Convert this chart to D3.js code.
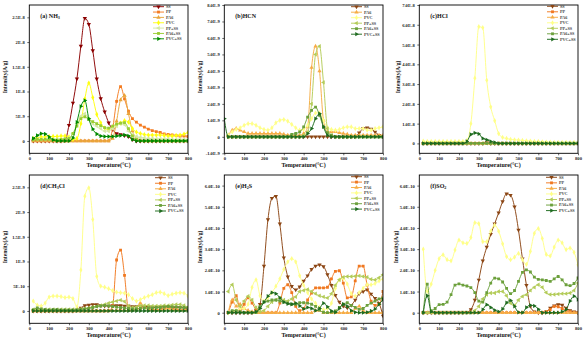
<!DOCTYPE html>
<html>
<head>
<meta charset="utf-8">
<script src="https://cdn.jsdelivr.net/npm/d3@7"></script>
<style>
  body { margin: 0; background: #fff; }
  svg { display: block; }
  text { font-family: "Liberation Serif", "Times New Roman", serif; }
</style>
</head>
<body>
<svg id="chart" width="588" height="344"></svg>
<script>
// Temperature grid (°C) shared by every gas panel
const temperature = [0,20,40,60,80,100,120,140,160,180,200,220,240,260,280,300,320,340,360,380,400,
  420,440,460,480,500,520,540,560,580,600,620,640,660,680,700,720,740,760,780,800];
const tempTicks = [0,100,200,300,400,500,600,700,800];

// ---- (a) NH3, intensity in units of 1E-9 A/g ----
const nh3Ticks = [0,5,10,15,20,25];
const nh3TickLabels = ["0","5E-9","1E-8","1.5E-8","2E-8","2.5E-8"];
const nh3SS    = [null,0,0,0,0,0,0,0,0,0.1,3.2,7.7,12.6,19.2,24.8,23.6,18.3,12.6,8.6,5.9,3.7,2.3,1.5,1.3,1.1,0.9,0.3,0,0,0,0,0,0,0,0,0,0,0,0,0,0];
const nh3PP    = [null,0,0,0,0,0,0,0,0,0,0,0,0,0,0,0,0,0,0,0,0,2.5,8.0,11.0,8.5,6.0,4.5,3.8,3.2,2.8,2.4,2.1,1.9,1.7,1.4,1.3,1.2,1.1,1.0,1.0,0.9];
const nh3PA6   = [null,0,0,0,0,0,0,0,0,0,0,0,0,0,0,0,0,0,0,0,0,0.5,4.0,8.3,9.2,5.5,2.0,0.6,0.2,0,0,0,0,0,0,0,0,0,0,0,0];
const nh3PVC   = [null,0.5,0.6,0.8,0.8,0.9,0.9,0.9,1.0,1.0,0.8,0.3,0.5,3.5,8.5,11.7,8.8,5.4,3.7,2.6,2.2,2.8,3.2,3.6,4.1,3.8,2.5,1.8,1.5,1.3,1.2,1.2,1.2,1.2,1.1,1.0,1.0,1.1,1.2,1.4,1.7];
const nh3PPSS  = [null,0.3,0.3,0.3,0.3,0.3,0.3,0.3,0.3,0.4,0.6,1.5,3.5,5.0,5.5,4.5,3.5,3.0,2.5,2.0,2.0,2.5,3.0,3.5,3.3,2.0,1.2,0.9,0.7,0.6,0.5,0.5,0.4,0.4,0.4,0.4,0.3,0.3,0.3,0.3,0.3];
const nh3PA6SS = [null,0.2,0.3,0.3,0.3,0.3,0.2,0.2,0.3,0.4,0.5,1.5,3.0,4.5,4.9,4.3,3.9,3.5,3.1,2.7,2.6,3.0,3.4,3.6,3.7,2.5,1.0,0.3,0,0,0,0,0,0,0,0,0,0,0,0,0];
const nh3PVCSS = [null,0.5,1.1,1.5,1.4,0.8,0.2,0,0,0,0,0.6,3.8,7.0,8.2,4.5,2.4,1.4,1.0,0.9,0.9,0.9,1.0,1.1,1.2,1.0,0.3,0,0,0,0,0,0,0,0,0,0,0,0,0,0];

// ---- (b) HCN, units of 1E-9 A/g ----
const hcnTicks = [-1,0,1,2,3,4,5,6,7,8];
const hcnTickLabels = ["-1.0E-9","0","1.0E-9","2.0E-9","3.0E-9","4.0E-9","5.0E-9","6.0E-9","7.0E-9","8.0E-9"];
const hcnSS    = [null,0,0,0,0,0,0,0,0,0,0,0,0,0,0,0,0,0,0,0,0,0,0,0,0,0,0,0,0,0,0,0,0,0,0.25,0.5,0.55,0.48,0.3,0.1,0];
const hcnPA6   = [null,0.1,0.4,0.5,0.4,0.3,0.2,0.2,0.2,0.2,0.2,0.2,0.2,0.2,0.2,0.15,0.1,0.1,0.1,0.1,0.2,0.6,4.2,5.5,4.0,1.0,0.3,0.3,0.3,0.25,0.2,0.15,0.1,0.1,0.1,0.1,0.1,0.1,0.1,0.1,0.1];
const hcnPVC   = [null,0.1,0.3,0.45,0.55,0.7,0.8,0.8,0.7,0.55,0.45,0.4,0.55,0.85,1.0,1.05,0.95,0.75,0.55,0.4,0.45,0.7,1.1,1.45,1.45,1.0,0.55,0.45,0.4,0.45,0.55,0.6,0.6,0.5,0.5,0.5,0.4,0.4,0.5,0.55,0.6];
const hcnPPSS  = [null,0,0,0,0,0,0,0,0,0,0,0,0,0,0,0,0,0,0,0,0.1,0.3,2.0,5.0,5.5,3.3,0.5,0.1,0,0,0,0,0,0,0,0,0,0,0,0,0];
const hcnPA6SS = [null,0,0,0,0,0,0,0,0,0,0,0,0,0,0,0,0,0.15,0.2,0.3,0.6,1.2,1.6,1.8,1.3,0.6,0.25,0.1,0,0,0,0,0,0,0,0,0,0,0,0,0];
const hcnPVCSS = [1.1,0,0,0,0,0,0,0,0,0,0,0,0,0,0,0,0,0,0,0,0,0.2,0.5,1.1,1.4,0.6,0.1,0,0,0,0,0,0,0,0,0,0,0,0,0,0];

// ---- (c) HCl, units of 1E-8 A/g ----
const hclTicks = [0,1,2,3,4,5,6,7];
const hclTickLabels = ["0","1.0E-8","2.0E-8","3.0E-8","4.0E-8","5.0E-8","6.0E-8","7.0E-8"];
const hclSS    = [null,0,0,0,0,0,0,0,0,0,0,0,0,0,0,0,0,0.05,0,0,0,0,0,0,0,0,0,0,0,0,0,0,0,0,0,0,0,0,0,0,0];
const hclPP    = [null,0,0,0,0,0,0,0,0,0,0,0,0,0,0,0,0,0,0,0,0,0,0,0,0,0,0,0,0,0,0,0,0,0,0,0,0,0,0,0,0];
const hclPA6   = [null,0,0,0,0,0,0,0,0,0,0,0,0,0,0,0,0,0,0,0,0,0,0,0,0,0,0,0,0,0,0,0,0,0,0,0,0,0,0,0,0];
const hclPVC   = [null,0.12,0.1,0.1,0.1,0.1,0.1,0.1,0.1,0.1,0.1,0.1,0.15,1.0,3.3,5.9,5.85,3.2,1.85,1.15,0.5,0.3,0.25,0.2,0.18,0.17,0.15,0.13,0.12,0.1,0.1,0.08,0.07,0.06,0.05,0.05,0.05,0.05,0.05,0.05,0.05];
const hclPPSS  = [null,0,0,0,0,0,0,0,0,0,0,0,0,0,0,0,0,0,0,0,0,0,0,0,0,0,0,0,0,0,0,0,0,0,0,0,0,0,0,0,0];
const hclPA6SS = [null,0,0,0,0,0,0,0,0,0,0,0,0,0,0,0,0,0,0,0,0,0,0,0,0,0,0,0,0,0,0,0,0,0,0,0,0,0,0,0,0];
const hclPVCSS = [null,0,0,0,0,0,0,0,0,0,0,0,0.1,0.45,0.53,0.48,0.25,0.18,0.1,0.05,0,0,0,0,0,0,0,0,0,0,0,0,0,0,0,0,0,0,0,0,0];

// ---- (d) CH3Cl, units of 1E-10 A/g ----
const cmTicks = [0,5,10,15,20,25];
const cmTickLabels = ["0","5E-10","1E-9","1.5E-9","2E-9","2.5E-9"];
const cmSS    = [null,0,0,0,0,0,0,0,0,0,0,0,0.2,0.6,1.1,1.2,1.3,1.3,1.1,1.0,1.0,1.1,1.1,1.1,1.0,1.0,0.9,0.9,1.0,0.9,0.9,0.7,0.7,0.8,0.9,0.9,0.7,0.7,0.7,0.6,0.5];
const cmPP    = [null,0,0,0,0,0,0,0,0,0,0,0,0,0,0,0,0,0,0,0,0,1.0,10.3,12.3,7.2,0.3,0.2,0.3,0.6,0.8,0.5,0.3,0.2,0.3,0.6,0.8,0.5,0.3,0.2,0.2,0.2];
const cmPA6   = [null,0,0,0,0,0,0,0,0,0,0,0,0,0,0,0,0,0,0,0,0.1,0.1,0.1,0.2,0.1,0.1,0.2,0.4,1.6,0.8,0.3,0.2,0.2,0.2,0.3,0.5,0.3,0.2,0.2,0.2,0.2];
const cmPVC   = [null,2.0,1.2,1.0,1.6,2.8,3.0,3.0,2.9,2.7,2.8,2.5,0.8,8.3,23.2,24.9,18.5,7.0,5.0,4.8,4.5,4.1,3.8,3.7,3.6,3.3,2.5,2.0,2.3,2.7,3.0,3.3,3.7,3.8,3.5,3.1,3.4,3.6,3.7,3.6,3.0];
const cmPPSS  = [null,0.3,0.4,0.3,0.3,0.3,0.3,0.3,0.3,0.3,0.3,0.3,0.3,0.4,0.5,0.6,0.8,0.9,1.1,1.3,1.6,1.8,2.0,2.2,1.9,1.0,0.7,0.8,1.0,1.1,1.1,1.0,1.0,1.0,1.1,1.1,1.2,1.3,1.3,1.1,0.8];
const cmPA6SS = [null,0.2,0.6,0.4,0.3,0.2,0.3,0.3,0.2,0.2,0.2,0.2,0.2,0.3,0.4,0.5,0.7,0.9,1.0,1.1,1.0,0.9,0.8,0.7,0.6,0.5,0.4,0.4,0.5,0.6,0.6,0.6,0.7,0.7,0.8,0.9,0.8,0.8,0.7,0.7,0.6];
const cmPVCSS = [null,0,0,0,0,0,0,0,0,0,0,0,0,0,0,0,0,0,0,0,0,0,0,0,0,0,0,0,0,0,0,0,0,0,0,0,0,0,0,0,0];

// ---- (e) H2S, units of 1E-10 A/g ----
const hsTicks = [0,1,2,3,4,5,6];
const hsTickLabels = ["0","1.0E-10","2.0E-10","3.0E-10","4.0E-10","5.0E-10","6.0E-10"];
const hsSS    = [null,0,0,0,0,0,0,0,0.1,0.4,2.2,4.4,5.4,5.5,4.2,2.6,1.7,1.25,1.08,1.22,1.5,1.75,2.05,2.2,2.26,2.18,1.8,1.3,0.82,0.5,0.31,0.23,0.35,0.6,0.9,1.0,1.08,0.88,0.68,0.45,-0.15];
const hsPP    = [null,0,0.5,0.8,0.15,0.4,0.7,0.45,0.15,0,0,0,0,0,0.45,1.15,1.32,0.95,0.3,0.1,0.2,0.6,0.93,1.17,1.17,1.17,1.2,1.6,1.95,1.98,1.4,0.7,0.75,1.5,2.2,2.2,1.3,0.55,0.35,0.4,1.0];
const hsPA6   = [null,0,0.6,0.3,0.4,0.2,0.1,0.05,0,0,0,0,0,0,0,0,0,0,0,0,0,0,0,0.1,0.1,0,0,0,0,0,0,0,0,0.2,0.3,0.1,0,0,0,0,0];
const hsPVC   = [null,0,0.05,0.1,0.2,0.2,0.4,1.2,1.55,0.8,0.55,0.7,0.95,1.25,1.6,2.05,2.4,2.55,2.4,1.75,1.3,0.95,0.65,0.45,0.25,0.15,0.2,0.45,1.15,1.55,1.62,1.35,0.9,0.78,0.95,1.15,1.32,1.32,1.38,1.5,1.6];
const hsPPSS  = [null,1.0,1.32,0.6,0.3,0.55,0.78,0.6,0.25,0.05,0.1,0.3,0.5,0.6,0.7,0.6,0.55,0.65,0.75,1.0,1.05,1.1,1.0,0.9,0.8,0.75,0.7,0.9,1.3,1.55,1.68,1.71,1.71,1.72,1.74,1.71,1.68,1.58,1.55,1.65,1.79];
const hsPA6SS = [null,0,0.1,0.1,0.05,0,0,0,0,0.3,0.5,0.55,0.6,0.6,0.55,0.5,0.45,0.4,0.4,0.47,0.47,0.45,0.4,0.3,0.12,0.02,0,0.03,0.08,0.25,0.4,0.47,0.35,0.25,0.16,0.2,0.35,0.45,0.55,0.65,0.7];
const hsPVCSS = [null,0,0,0,0,0,0,0,0.05,0.2,0.5,0.78,0.95,0.9,0.7,0.5,0.42,0.4,0.45,0.32,0.18,0.25,0.2,0.1,0.2,0.45,0.28,0.08,0.02,0.2,0.4,0.3,0.1,0.02,0,0,0.02,0.08,0.18,0.4,0.62];

// ---- (f) SO2, units of 1E-10 A/g ----
const soTicks = [0,1,2,3,4,5,6];
const soTickLabels = ["0","1.0E-10","2.0E-10","3.0E-10","4.0E-10","5.0E-10","6.0E-10"];
const soSS    = [null,0,0,0,0,0,0,0,0,0,0,0,0.02,0.15,0.6,1.55,2.45,3.1,3.7,4.2,4.72,5.25,5.62,5.55,5.0,3.9,2.55,1.3,0.3,0.05,0,0,0.05,0.22,0.33,0.39,0.36,0.22,0.1,0.04,0];
const soPP    = [null,0,0,0,0,0,0,0,0,0,0,0,0,0,0,0,0,0,0,0,0,0,0,0,0,0,0,0,0,0,0,0,0.05,0.15,0.3,0.28,0.2,0.1,0.05,0,0];
const soPA6   = [null,0,0,0,0,0,0,0,0,0,0,0,0,0,0,0,0,0,0,0,0,0,0,0,0,0,0,0,0,0,0,0,0,0,0,0,0,0,0,0,0];
const soPVC   = [null,3.0,1.0,1.35,2.0,2.55,2.73,2.5,2.45,2.96,3.43,3.3,3.27,3.55,4.25,4.2,3.35,3.35,3.85,4.13,3.85,3.25,2.65,2.5,2.62,2.8,2.5,2.28,2.9,3.75,3.97,3.5,2.75,2.68,3.1,3.43,3.3,2.98,3.05,2.85,2.26];
const soPPSS  = [null,0,0,0,0,0,0,0,0,0,0,0,0,0,0.1,0.3,0.65,0.85,0.93,0.93,1.0,1.0,0.8,0.45,0.35,0.6,0.77,0.85,1.05,1.2,1.32,1.2,0.95,0.86,0.86,0.88,0.9,0.9,0.93,1.05,1.4];
const soPA6SS = [null,0,1.35,0.1,0.2,0.38,0.39,0.5,0.85,1.3,1.36,1.3,1.26,1.18,0.95,0.55,0.5,0.95,1.4,1.63,1.6,1.45,1.15,0.9,1.05,1.48,1.9,2.02,1.92,1.68,1.57,1.55,1.52,1.48,1.6,1.71,1.55,1.32,1.28,1.38,1.64];
const soPVCSS = [null,0,0.8,0.05,0,0,0,0,0,0,0,0,0,0,0,0,0.15,0.38,0.25,0.12,0.05,0.18,0.47,0.58,0.3,0.02,0,0.25,0.35,0.32,0.16,0,0,0,0,0,0.05,0.15,0.55,0.78,0.62];

// ---- styling per sample ----
const colorsNH3 = {"SS":"#8b0000","PP":"#f47b20","PA6":"#e9a53a","PVC":"#ffff10","PP+SS":"#d4e8a4","PA6+SS":"#9acd32","PVC+SS":"#008a00"};
const colorsStd = {"SS":"#8b4513","PP":"#f07820","PA6":"#f6ac45","PVC":"#ffff88","PP+SS":"#b4cc5a","PA6+SS":"#6ca03c","PVC+SS":"#1f6b1f"};
const symbolOf = {
  "SS":     {type: d3.symbolTriangle, rot: 180},
  "PP":     {type: d3.symbolSquare,   rot: 0},
  "PA6":    {type: d3.symbolTriangle, rot: 0},
  "PVC":    {type: d3.symbolDiamond,  rot: 0},
  "PP+SS":  {type: d3.symbolTriangle, rot: -90},
  "PA6+SS": {type: d3.symbolSquare,   rot: 0},
  "PVC+SS": {type: d3.symbolTriangle, rot: 90}
};

const panels = [
  { title: [["(a) NH",false],["3",true]], left: 29.3, top: 5, yDomain: [-2.5, 27.5], ticks: nh3Ticks, tickLabels: nh3TickLabels,
    colors: colorsNH3, legendX: 153, legendY: 6.7, legendStep: 5.35, ylabX: 5,
    series: [["SS",nh3SS],["PP",nh3PP],["PA6",nh3PA6],["PVC",nh3PVC],["PP+SS",nh3PPSS],["PA6+SS",nh3PA6SS],["PVC+SS",nh3PVCSS]] },
  { title: [["(b)HCN",false]], left: 224.3, top: 5, yDomain: [-1, 8], ticks: hcnTicks, tickLabels: hcnTickLabels,
    colors: colorsStd, legendX: 351, legendY: 6.7, legendStep: 5.5, ylabX: 200,
    series: [["SS",hcnSS],["PA6",hcnPA6],["PVC",hcnPVC],["PP+SS",hcnPPSS],["PA6+SS",hcnPA6SS],["PVC+SS",hcnPVCSS]] },
  { title: [["(c)HCl",false]], left: 419.3, top: 5, yDomain: [-0.5, 7], ticks: hclTicks, tickLabels: hclTickLabels,
    colors: colorsStd, legendX: 547, legendY: 6.3, legendStep: 5.5, ylabX: 398,
    series: [["SS",hclSS],["PP",hclPP],["PA6",hclPA6],["PVC",hclPVC],["PP+SS",hclPPSS],["PA6+SS",hclPA6SS],["PVC+SS",hclPVCSS]] },
  { title: [["(d)CH",false],["3",true],["Cl",false]], left: 29.3, top: 175, yDomain: [-2.5, 27.5], ticks: cmTicks, tickLabels: cmTickLabels,
    colors: colorsStd, legendX: 155, legendY: 177.7, legendStep: 5.55, ylabX: 5,
    series: [["SS",cmSS],["PP",cmPP],["PA6",cmPA6],["PVC",cmPVC],["PP+SS",cmPPSS],["PA6+SS",cmPA6SS],["PVC+SS",cmPVCSS]] },
  { title: [["(e)H",false],["2",true],["S",false]], left: 224.3, top: 175, yDomain: [-0.5, 6.5], ticks: hsTicks, tickLabels: hsTickLabels,
    colors: colorsStd, legendX: 351, legendY: 176.7, legendStep: 5.4, ylabX: 200,
    series: [["SS",hsSS],["PP",hsPP],["PA6",hsPA6],["PVC",hsPVC],["PP+SS",hsPPSS],["PA6+SS",hsPA6SS],["PVC+SS",hsPVCSS]] },
  { title: [["(f)SO",false],["2",true]], left: 419.3, top: 175, yDomain: [-0.5, 6.5], ticks: soTicks, tickLabels: soTickLabels,
    colors: colorsStd, legendX: 546, legendY: 177.3, legendStep: 5.55, ylabX: 396,
    series: [["SS",soSS],["PP",soPP],["PA6",soPA6],["PVC",soPVC],["PP+SS",soPPSS],["PA6+SS",soPA6SS],["PVC+SS",soPVCSS]] }
];

const W = 158.7, H = 148.3;
const svg = d3.select("#chart");

panels.forEach((p, pi) => {
  const g = svg.append("g").attr("transform", `translate(${p.left},${p.top})`);
  const x = d3.scaleLinear().domain([0, 800]).range([0, W]);
  const y = d3.scaleLinear().domain(p.yDomain).range([H, 0]);
  const clipId = "clip" + pi;
  g.append("clipPath").attr("id", clipId).append("rect").attr("width", W).attr("height", H);

  // axes
  const xAxis = g.append("g").attr("transform", `translate(0,${H})`)
    .call(d3.axisBottom(x).tickValues(tempTicks).tickSize(2).tickPadding(1.5));
  const yAxis = g.append("g")
    .call(d3.axisLeft(y).tickValues(p.ticks).tickFormat((d, i) => p.tickLabels[i]).tickSize(2).tickPadding(2.5));
  [xAxis, yAxis].forEach(a => {
    a.select(".domain").remove();
    a.selectAll(".tick line").attr("stroke", "#000").attr("stroke-width", 0.6);
    a.selectAll(".tick text").attr("font-size", 4.6).attr("font-weight", "bold").attr("fill", "#222")
      .style("font-family", '"Liberation Serif", serif');
  });

  // series lines and markers
  const plot = g.append("g").attr("clip-path", `url(#${clipId})`);
  p.series.forEach(([name, values]) => {
    const pts = temperature.map((t, i) => [t, values[i]]);
    const color = p.colors[name];
    const line = d3.line().defined(d => d[1] != null)
      .x(d => x(d[0])).y(d => y(d[1])).curve(d3.curveMonotoneX);
    plot.append("path").datum(pts).attr("d", line)
      .attr("fill", "none").attr("stroke", color).attr("stroke-width", 0.95);
    const sym = symbolOf[name];
    plot.append("g").selectAll("path").data(pts.filter(d => d[1] != null)).join("path")
      .attr("d", d3.symbol().type(sym.type).size(8))
      .attr("transform", d => `translate(${x(d[0])},${y(d[1])}) rotate(${sym.rot})`)
      .attr("fill", color);
  });

  // frame
  g.append("rect").attr("width", W).attr("height", H)
    .attr("fill", "none").attr("stroke", "#000").attr("stroke-width", 0.9);

  // panel title
  const t = g.append("text").attr("x", 11).attr("y", 13).attr("font-size", 6).attr("font-weight", "bold").attr("fill", "#111");
  p.title.forEach(([s, sub]) => {
    const ts = t.append("tspan").text(s);
    if (sub) ts.attr("font-size", 4.2).attr("dy", 1.4);
    else if (t.selectAll("tspan").size() > 1) ts.attr("dy", -1.4);
  });

  // legend
  const lg = svg.append("g");
  p.series.forEach(([name], i) => {
    const ly = p.legendY + i * p.legendStep;
    const color = p.colors[name];
    lg.append("line").attr("x1", p.legendX).attr("x2", p.legendX + 11).attr("y1", ly).attr("y2", ly)
      .attr("stroke", color).attr("stroke-width", 0.95);
    const sym = symbolOf[name];
    lg.append("path").attr("d", d3.symbol().type(sym.type).size(8)())
      .attr("transform", `translate(${p.legendX + 5.5},${ly}) rotate(${sym.rot})`).attr("fill", color);
    lg.append("text").attr("x", p.legendX + 13).attr("y", ly + 1.4).attr("font-size", 4.2)
      .attr("font-weight", "bold").attr("fill", "#444").text(name);
  });

  // axis titles
  svg.append("text").attr("x", p.left + W / 2).attr("y", p.top + H + 14)
    .attr("text-anchor", "middle").attr("font-size", 6).attr("font-weight", "bold").attr("fill", "#111")
    .text("Temperature(°C)");
  svg.append("text").attr("transform", `translate(${p.ylabX + 2},${p.top + 72}) rotate(-90)`)
    .attr("text-anchor", "middle").attr("font-size", 5.5).attr("font-weight", "bold").attr("fill", "#111")
    .text("Intensity(A/g)");
});
</script>
</body>
</html>
